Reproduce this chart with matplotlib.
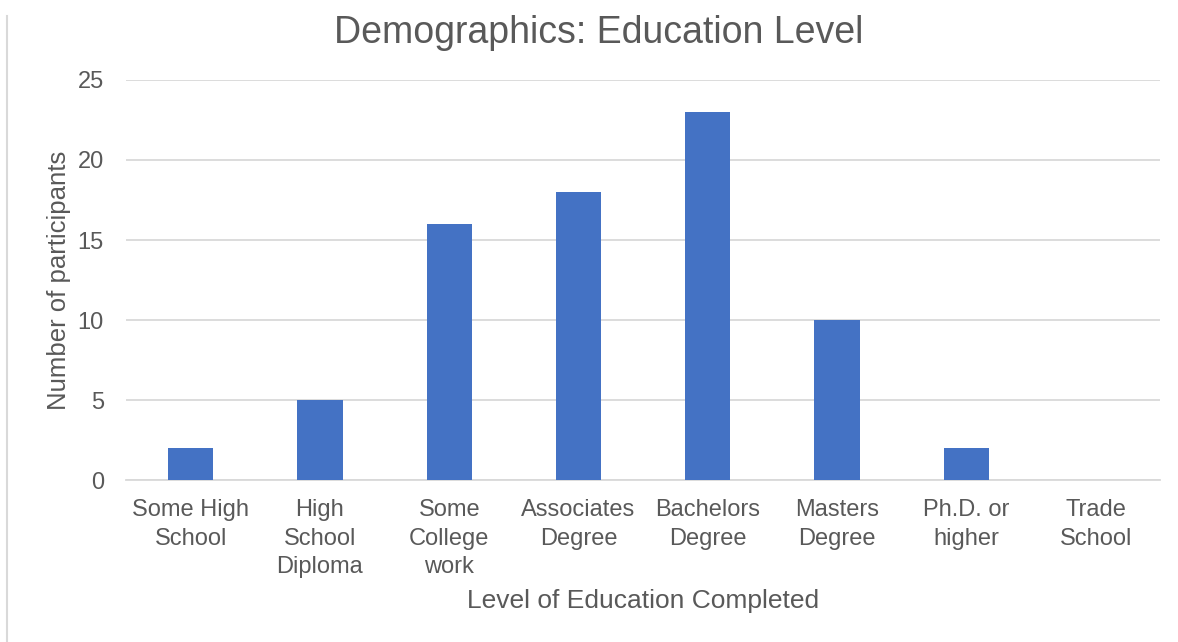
import matplotlib
matplotlib.use("Agg")
import matplotlib.pyplot as plt
from matplotlib.lines import Line2D
import numpy as np

# data
categories = ["Some High\nSchool", "High\nSchool\nDiploma", "Some\nCollege\nwork",
              "Associates\nDegree", "Bachelors\nDegree", "Masters\nDegree",
              "Ph.D. or\nhigher", "Trade\nSchool"]
participants = [2, 5, 16, 18, 23, 10, 2, 0]
y_ticks = [0, 5, 10, 15, 20, 25]

plt.rcParams["font.family"] = ["Liberation Sans", "DejaVu Sans"]
text_color = "#595959"

fig = plt.figure(figsize=(11.78, 6.42), dpi=100)
ax = fig.add_axes([0.107, 0.2523, 0.878, 0.6231])

x = np.arange(len(categories))
ax.bar(x, participants, width=0.35, color="#4472C4", zorder=3)

ax.set_xlim(-0.5, len(categories) - 0.5)
ax.set_ylim(0, 25)
ax.set_yticks(y_ticks)
ax.set_xticks(x)
ax.set_xticklabels(categories, fontsize=17, color=text_color, linespacing=1.38, va="top")
ax.tick_params(axis="y", labelsize=17, labelcolor=text_color, length=0, pad=16)
ax.tick_params(axis="x", length=0, pad=14)

ax.grid(axis="y", color="#D9D9D9", linewidth=1.3, zorder=0)
for s in ["top", "right", "left"]:
    ax.spines[s].set_visible(False)
ax.spines["bottom"].set_color("#D9D9D9")
ax.spines["bottom"].set_linewidth(1.3)

ax.set_ylabel("Number of participants", fontsize=18.5, color=text_color, labelpad=5)
ax.set_xlabel("Level of Education Completed", fontsize=19, color=text_color, labelpad=8)
fig.text(0.508, 0.949, "Demographics: Education Level", fontsize=27,
         color=text_color, ha="center", va="center")

# chart border fragment on the left
fig.add_artist(Line2D([0.0059, 0.0059], [0.0, 0.975], color="#D9D9D9", linewidth=1.5))

fig.savefig("out.png", dpi=100)
